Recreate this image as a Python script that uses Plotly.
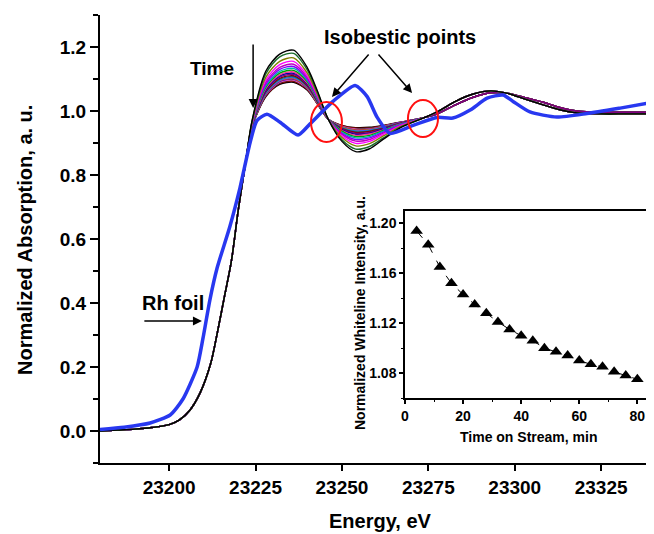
import plotly.graph_objects as go

# ---------------- data ----------------
# common pre-edge / edge part of the time-resolved spectra
E_edge = [23180, 23185, 23190, 23195, 23200, 23203, 23206, 23209, 23212, 23214, 23216, 23218, 23220, 23222]
V_edge = [0.0, 0.003, 0.006, 0.011, 0.02, 0.035, 0.065, 0.12, 0.21, 0.31, 0.42, 0.53, 0.69, 0.83]

# whiteline region (differs between spectra)
E_wl = [23224, 23228, 23232, 23236, 23240, 23243, 23246, 23250, 23254, 23258, 23262, 23267, 23274]
V_wl = [
    [0.970, 1.125, 1.178, 1.190, 1.135, 1.060, 0.975, 0.905, 0.873, 0.882, 0.912, 0.948, 0.980],
    [0.968, 1.117, 1.169, 1.180, 1.128, 1.056, 0.975, 0.910, 0.881, 0.889, 0.916, 0.950, 0.980],
    [0.965, 1.106, 1.155, 1.166, 1.118, 1.050, 0.975, 0.917, 0.891, 0.898, 0.922, 0.952, 0.980],
    [0.963, 1.097, 1.145, 1.155, 1.110, 1.046, 0.975, 0.922, 0.899, 0.905, 0.927, 0.954, 0.980],
    [0.961, 1.090, 1.136, 1.146, 1.104, 1.042, 0.975, 0.927, 0.906, 0.911, 0.931, 0.955, 0.980],
    [0.960, 1.084, 1.130, 1.139, 1.099, 1.040, 0.975, 0.930, 0.911, 0.916, 0.934, 0.957, 0.980],
    [0.959, 1.079, 1.124, 1.133, 1.095, 1.037, 0.975, 0.933, 0.916, 0.920, 0.937, 0.958, 0.980],
    [0.957, 1.075, 1.118, 1.127, 1.091, 1.035, 0.975, 0.937, 0.920, 0.924, 0.939, 0.959, 0.980],
    [0.956, 1.071, 1.113, 1.122, 1.087, 1.033, 0.975, 0.939, 0.924, 0.928, 0.941, 0.960, 0.980],
    [0.956, 1.067, 1.110, 1.118, 1.085, 1.031, 0.975, 0.941, 0.927, 0.930, 0.943, 0.960, 0.980],
    [0.955, 1.064, 1.106, 1.114, 1.082, 1.030, 0.975, 0.943, 0.930, 0.933, 0.945, 0.961, 0.980],
    [0.954, 1.061, 1.102, 1.110, 1.079, 1.028, 0.975, 0.945, 0.933, 0.936, 0.946, 0.962, 0.980],
    [0.953, 1.059, 1.099, 1.107, 1.077, 1.027, 0.975, 0.947, 0.935, 0.938, 0.948, 0.962, 0.980],
    [0.953, 1.056, 1.096, 1.104, 1.075, 1.026, 0.975, 0.948, 0.938, 0.940, 0.949, 0.963, 0.980],
    [0.952, 1.054, 1.094, 1.101, 1.073, 1.024, 0.975, 0.950, 0.940, 0.942, 0.950, 0.963, 0.980],
    [0.952, 1.052, 1.092, 1.099, 1.071, 1.024, 0.975, 0.951, 0.941, 0.943, 0.951, 0.964, 0.980],
    [0.951, 1.051, 1.090, 1.097, 1.070, 1.023, 0.975, 0.952, 0.943, 0.944, 0.952, 0.964, 0.980],
    [0.951, 1.049, 1.088, 1.095, 1.069, 1.022, 0.975, 0.953, 0.944, 0.946, 0.953, 0.964, 0.980],
    [0.951, 1.047, 1.086, 1.093, 1.067, 1.021, 0.975, 0.954, 0.946, 0.947, 0.954, 0.965, 0.980],
    [0.950, 1.045, 1.083, 1.090, 1.065, 1.020, 0.975, 0.955, 0.948, 0.949, 0.955, 0.965, 0.980],
]

# post-edge part: early spectra (first half) and late spectra (second half)
E_post = [23278, 23283, 23288, 23293, 23298, 23303, 23308, 23313, 23318, 23325, 23332, 23340]
V_post_early = [1.000, 1.031, 1.053, 1.063, 1.055, 1.037, 1.020, 1.004, 0.994, 0.991, 0.991, 0.991]
V_post_late = [0.993, 1.020, 1.043, 1.057, 1.055, 1.042, 1.028, 1.011, 1.000, 0.996, 0.996, 0.996]

# Rh foil reference spectrum
E_foil = [23180, 23187, 23194.5, 23200.3, 23204.0, 23208.1, 23209.8, 23211.8, 23213.9, 23217.6,
          23220.5, 23223.4, 23225.4, 23228.3, 23232.1, 23237.3, 23240.8, 23247.4, 23253.8, 23257.3,
          23260.2, 23263.9, 23270.6, 23277.5, 23282.1, 23287.1, 23292.0, 23296.6, 23299.5, 23304.4,
          23312.2, 23320.9, 23330.5, 23340]
V_foil = [0.005, 0.012, 0.025, 0.05, 0.10, 0.20, 0.29, 0.41, 0.51, 0.64,
          0.76, 0.90, 0.97, 0.99, 0.965, 0.925, 0.96, 1.03, 1.08, 1.045,
          0.98, 0.93, 0.955, 0.98, 0.978, 1.003, 1.04, 1.05, 1.03, 0.997,
          0.981, 0.992, 1.009, 1.027]

# inset: whiteline intensity vs time on stream
t_min = [4, 8, 12, 16, 20, 24, 28, 32, 36, 40, 44, 48, 52, 56, 60, 64, 68, 72, 76, 80]
wl_int = [1.194, 1.183, 1.165, 1.152, 1.143, 1.135, 1.128, 1.121, 1.115, 1.110,
          1.106, 1.100, 1.097, 1.094, 1.090, 1.087, 1.085, 1.081, 1.078, 1.075]

x_ticks = [23200, 23225, 23250, 23275, 23300, 23325]

colors = ['#000000', '#1a6b2a', '#808000', '#ff00ff', '#c000c0', '#8000ff', '#00b0b0',
          '#00a000', '#ff3399', '#0000a0', '#800080', '#800000', '#008080', '#4060ff',
          '#d06000', '#6000c0', '#ff66cc', '#303030', '#a00000', '#000000']

FONT = "Liberation Sans, Arial, sans-serif"

fig = go.Figure()

order = list(range(len(V_wl) - 1, -1, -1))
for i in order:
    post = V_post_early if i < len(V_wl) // 2 else V_post_late
    fig.add_trace(go.Scatter(
        x=E_edge + E_wl + E_post, y=V_edge + V_wl[i] + post,
        mode='lines', line=dict(color=colors[i], width=1.4, shape='spline', smoothing=0.8),
        showlegend=False, hoverinfo='skip'))

fig.add_trace(go.Scatter(
    x=E_foil, y=V_foil, mode='lines',
    line=dict(color='#2838f0', width=3.5, shape='spline', smoothing=0.6),
    showlegend=False, hoverinfo='skip'))

fig.add_trace(go.Scatter(
    x=t_min, y=wl_int, xaxis='x2', yaxis='y2', mode='lines+markers',
    line=dict(color='black', width=1, dash='dash'),
    marker=dict(symbol='triangle-up', size=11, color='black'),
    showlegend=False, hoverinfo='skip'))

# the page body has an 8 px margin: figure is 646x526 so that it fits in the 654x534 window
fig.update_layout(
    width=646, height=526,
    margin=dict(l=92, r=1, t=7, b=71),
    paper_bgcolor='white', plot_bgcolor='white',
    font=dict(family=FONT, size=19, color='black', weight='bold'),
    xaxis=dict(range=[23180, 23340], tickvals=x_ticks, ticktext=[str(v) for v in x_ticks],
               automargin=False,
               showline=True, linewidth=2, linecolor='black', ticks='outside', ticklen=6,
               tickwidth=2, tickcolor='black', showgrid=False, zeroline=False,
               tickfont=dict(size=19, weight='bold')),
    yaxis=dict(range=[-0.1, 1.3], tick0=0, dtick=0.2, tickformat='.1f', automargin=False,
               showline=True, linewidth=2, linecolor='black', ticks='outside', ticklen=8,
               tickwidth=2, tickcolor='black', showgrid=False, zeroline=False,
               tickfont=dict(size=19, weight='bold'),
               minor=dict(dtick=0.1, ticks='outside', ticklen=5, tickwidth=1.5, tickcolor='black')),
    xaxis2=dict(domain=[0.5515, 0.998], anchor='y2', range=[0, 85], dtick=20, tick0=0,
                automargin=False,
                showline=True, mirror=True, linewidth=1.5, linecolor='black', ticks='outside',
                ticklen=4, tickwidth=1.5, tickcolor='black', showgrid=False, zeroline=False,
                minor=dict(dtick=10, ticks='outside', ticklen=2, tickwidth=1, tickcolor='black'),
                tickfont=dict(size=14, weight='bold')),
    yaxis2=dict(domain=[0.1451, 0.5625], anchor='x2', range=[1.06, 1.21], dtick=0.04, tick0=1.08,
                tickformat='.2f', automargin=False,
                showline=True, mirror=True, linewidth=1.5, linecolor='black', ticks='outside',
                ticklen=4, tickwidth=1.5, tickcolor='black', showgrid=False, zeroline=False,
                minor=dict(dtick=0.02, ticks='outside', ticklen=2, tickwidth=1, tickcolor='black'),
                tickfont=dict(size=14, weight='bold')),
)

# annotations (axis titles, text + arrows); titles given in window pixels
ann = []
ann.append(dict(x=25, y=240, xref='paper', yref='paper', text='Normalized Absorption, a. u.',
                textangle=-90, showarrow=False, font=dict(size=20, weight='bold')))
ann.append(dict(x=380, y=521, xref='paper', yref='paper', text='Energy, eV',
                showarrow=False, font=dict(size=20, weight='bold')))
ann.append(dict(x=360, y=313, xref='paper', yref='paper', text='Normalized Whiteline Intensity, a.u.',
                textangle=-90, showarrow=False, font=dict(size=14, weight='bold')))
ann.append(dict(x=528, y=437, xref='paper', yref='paper', text='Time on Stream, min',
                showarrow=False, font=dict(size=14, weight='bold')))
PW, PH = 553.0, 448.0
for a in ann:
    a['x'] = (a['x'] - 100) / PW
    a['y'] = (463 - a['y']) / PH
    a['xanchor'] = 'center'
    a['yanchor'] = 'middle'

ann.append(dict(x=23212.4, y=1.134, xref='x', yref='y', text='Time', showarrow=False,
                font=dict(size=19, weight='bold')))
ann.append(dict(x=23224.3, y=1.009, ax=23224.3, ay=1.2125, xref='x', yref='y', axref='x', ayref='y',
                text='', showarrow=True, arrowhead=2, arrowsize=1.2, arrowwidth=1.5, arrowcolor='black'))
ann.append(dict(x=23266.8, y=1.231, xref='x', yref='y', text='Isobestic points', showarrow=False,
                font=dict(size=20, weight='bold')))
ann.append(dict(x=23247.1, y=1.044, ax=23258.1, ay=1.181, xref='x', yref='y', axref='x', ayref='y',
                text='', showarrow=True, arrowhead=2, arrowsize=1.2, arrowwidth=1.5, arrowcolor='black'))
ann.append(dict(x=23270.3, y=1.056, ax=23260.2, ay=1.181, xref='x', yref='y', axref='x', ayref='y',
                text='', showarrow=True, arrowhead=2, arrowsize=1.2, arrowwidth=1.5, arrowcolor='black'))
ann.append(dict(x=23201.1, y=0.40, xref='x', yref='y', text='Rh foil', showarrow=False,
                font=dict(size=20, weight='bold')))
ann.append(dict(x=23209.5, y=0.344, ax=23192.4, ay=0.344, xref='x', yref='y', axref='x', ayref='y',
                text='', showarrow=True, arrowhead=2, arrowsize=1.2, arrowwidth=1.5, arrowcolor='black'))
fig.update_layout(annotations=ann)

fig.add_shape(type='circle', xref='x', yref='y', x0=23241.05, x1=23250.0, y0=0.903, y1=1.028,
              line=dict(color='#ff1010', width=2))
fig.add_shape(type='circle', xref='x', yref='y', x0=23269.1, x1=23277.8, y0=0.919, y1=1.034,
              line=dict(color='#ff1010', width=2))

fig.write_html("out.html")
